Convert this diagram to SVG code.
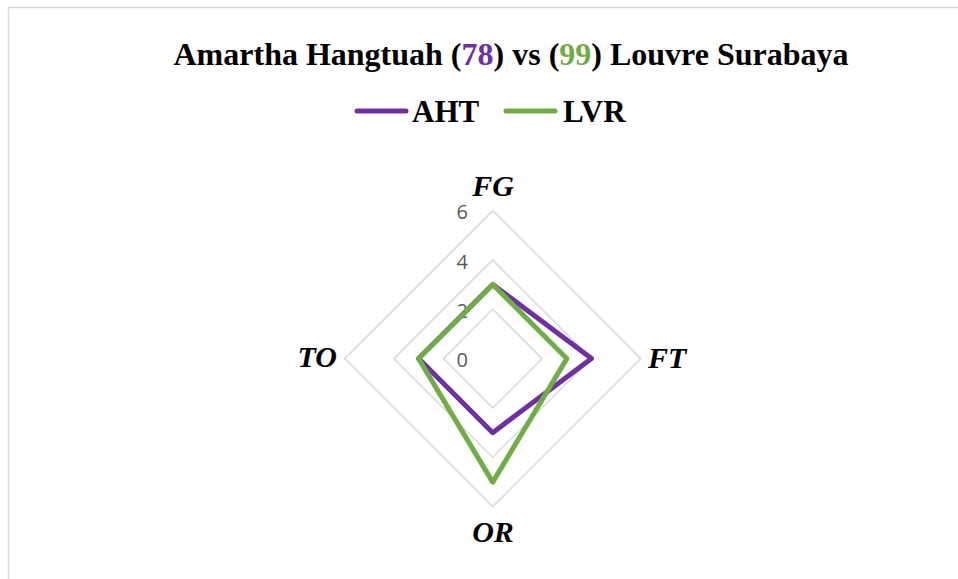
<svg xmlns="http://www.w3.org/2000/svg" width="958" height="579" viewBox="0 0 958 579">
<style>
.title{font-family:"Liberation Serif","Times New Roman",serif;font-weight:bold;font-size:32px;fill:#000}
.leg{font-family:"Liberation Serif","Times New Roman",serif;font-weight:bold;font-size:31px;fill:#000}
.ax{font-family:"Liberation Serif","Times New Roman",serif;font-weight:bold;font-style:italic;font-size:30px;fill:#000}
.tick{font-family:"Open Sans","Liberation Sans",sans-serif;font-size:20px;fill:#595959}
.grid{fill:none;stroke:#d9d9d9;stroke-width:1.5}
.s{fill:none;stroke-width:5;stroke-linejoin:round}
</style>
<rect x="0" y="0" width="958" height="579" fill="#fff"/>
<rect id="frame" x="8.5" y="7.5" width="960" height="590" fill="none" stroke="#d9d9d9" stroke-width="1.5"/>
<g id="title">
<text class="title" x="511" y="65" text-anchor="middle">Amartha Hangtuah (<tspan fill="#7030A0">78</tspan>) vs (<tspan fill="#70AD47">99</tspan>) Louvre Surabaya</text>
</g>
<g id="legend">
<line x1="357" y1="111" x2="406" y2="111" stroke="#7030A0" stroke-width="5" stroke-linecap="round"/>
<text class="leg" x="412" y="122">AHT</text>
<line x1="506" y1="111" x2="555" y2="111" stroke="#70AD47" stroke-width="5" stroke-linecap="round"/>
<text class="leg" x="563" y="122">LVR</text>
</g>
<g id="grid">
<polygon class="grid" points="492.7,309.3 542,358.6 492.7,407.9 443.4,358.6"/>
<polygon class="grid" points="492.7,259.9 591.4,358.6 492.7,457.3 394,358.6"/>
<polygon class="grid" points="492.7,210.6 640.7,358.6 492.7,506.6 344.7,358.6"/>
</g>
<g id="ticks">
<text class="tick" x="468" y="219" text-anchor="end">6</text>
<text class="tick" x="468" y="269" text-anchor="end">4</text>
<text class="tick" x="468" y="318" text-anchor="end">2</text>
<text class="tick" x="468" y="367" text-anchor="end">0</text>
</g>
<g id="axes">
<g id="FG"><text class="ax" x="493" y="196" text-anchor="middle">FG</text></g>
<g id="FT"><text class="ax" x="648" y="368">FT</text></g>
<g id="OR"><text class="ax" x="493" y="542" text-anchor="middle">OR</text></g>
<g id="TO"><text class="ax" x="337" y="367" text-anchor="end">TO</text></g>
</g>
<g id="connectors">
<polygon id="AHT" class="s" stroke="#7030A0" points="492.7,284.5 591.5,358.6 492.7,432.7 418.6,358.6"/>
<polygon id="LVR" class="s" stroke="#70AD47" points="492.7,284.5 566.8,358.6 492.7,482.1 418.6,358.6"/>
</g>
</svg>
